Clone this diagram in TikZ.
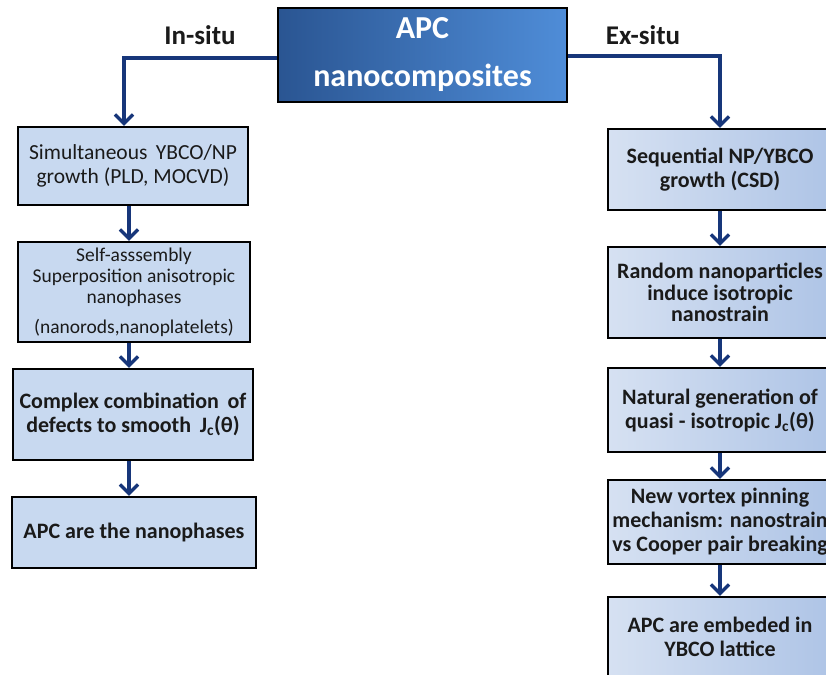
\documentclass[tikz,border=0pt]{standalone}
\usepackage{fontspec}
\setmainfont{Carlito}
\usetikzlibrary{arrows.meta}
\definecolor{navy}{HTML}{17367A}
\definecolor{tdark}{HTML}{2A5592}
\definecolor{tlight}{HTML}{4F8DD8}
\definecolor{lbox}{HTML}{C8D9F0}
\definecolor{rl}{HTML}{D6E1F2}
\definecolor{rr}{HTML}{AEC4E6}
\definecolor{txt}{HTML}{1A1A1A}
\tikzset{
  boxbase/.style={draw=black, line width=2.4pt, align=center, inner sep=0pt, text=txt},
  lbx/.style={boxbase, fill=lbox},
  rbx/.style={boxbase, left color=rl, right color=rr},
  regtext/.style={font=\fontsize{21.5}{24}\selectfont},
  boldtext/.style={font=\bfseries\fontsize{22}{24}\selectfont},
  arr/.style={draw=navy, line width=3.3pt, -{Straight Barb[length=9pt,width=18pt,line width=3.3pt]}},
  lab/.style={font=\bfseries\fontsize{27}{30}\selectfont, text=txt, inner sep=0pt}
}
\begin{document}
\begin{tikzpicture}[x=1pt,y=-1pt]
\useasboundingbox (0,0) rectangle (826,674);
\clip (0,0) rectangle (826,674);
% title
\node[draw=black, line width=2.6pt, left color=tdark, right color=tlight, text=white,
  minimum width=289pt, minimum height=94pt, inner sep=0pt, align=center,
  font=\bfseries\fontsize{32}{48}\selectfont] (T) at (422.5,55) {APC\\nanocomposites};
\node[lab] (ins) at (200,35) {In-situ};
\node[lab] (exs) at (643,35) {Ex-situ};
% left column
\node[lbx, regtext, minimum width=230pt, minimum height=78pt] (L1) at (133,166)
  {Simultaneous\, YBCO/NP\\growth (PLD, MOCVD)};
\node[lbx, font=\fontsize{19.5}{21}\selectfont, minimum width=232pt, minimum height=100pt] (L2) at (134,292)
  {Self-asssembly\\Superposition anisotropic\\nanophases\\[9pt](nanorods,nanoplatelets)};
\node[lbx, boldtext, minimum width=240pt, minimum height=91pt] (L3) at (133,414.5)
  {Complex combination\, of\\defects to smooth\, J\textsubscript{c}(θ)};
\node[lbx, boldtext, minimum width=244pt, minimum height=71pt] (L4) at (134,532.5)
  {APC are the nanophases};
% right column
\node[rbx, boldtext, minimum width=224pt, minimum height=81pt] (R1) at (720,169.5)
  {Sequential NP/YBCO\\growth (CSD)};
\node[rbx, font=\bfseries\fontsize{22}{21.5}\selectfont, minimum width=224pt, minimum height=91pt] (R2) at (720,292.5)
  {Random nanoparticles\\induce isotropic\\nanostrain};
\node[rbx, boldtext, minimum width=224pt, minimum height=84pt] (R3) at (720,410)
  {Natural generation of\\quasi - isotropic J\textsubscript{c}(θ)};
\node[rbx, boldtext, minimum width=224pt, minimum height=84pt] (R4) at (720,522)
  {New vortex pinning\\mechanism: nanostrain\\vs Cooper pair breaking};
\node[rbx, boldtext, minimum width=224pt, minimum height=80pt] (R5) at (720,637)
  {APC are embeded in\\YBCO lattice};
% connector coordinates
\coordinate (tl) at (124,0);
\coordinate (lx) at (129,0);
\coordinate (rx) at (720,0);
\coordinate (TW) at ([yshift=-3pt]T.west);
\coordinate (TE) at ([yshift=-1pt]T.east);
% connectors
\draw[arr] (TW) -- (TW -| tl) -- (L1.north -| tl);
\draw[arr] (TE) -- (TE -| rx) -- (R1.north -| rx);
\draw[arr] (L1.south -| lx) -- (L2.north -| lx);
\draw[arr] (L2.south -| lx) -- (L3.north -| lx);
\draw[arr] (L3.south -| lx) -- (L4.north -| lx);
\draw[arr] (R1.south -| rx) -- (R2.north -| rx);
\draw[arr] (R2.south -| rx) -- (R3.north -| rx);
\draw[arr] (R3.south -| rx) -- (R4.north -| rx);
\draw[arr] (R4.south -| rx) -- (R5.north -| rx);
\end{tikzpicture}
\end{document}
